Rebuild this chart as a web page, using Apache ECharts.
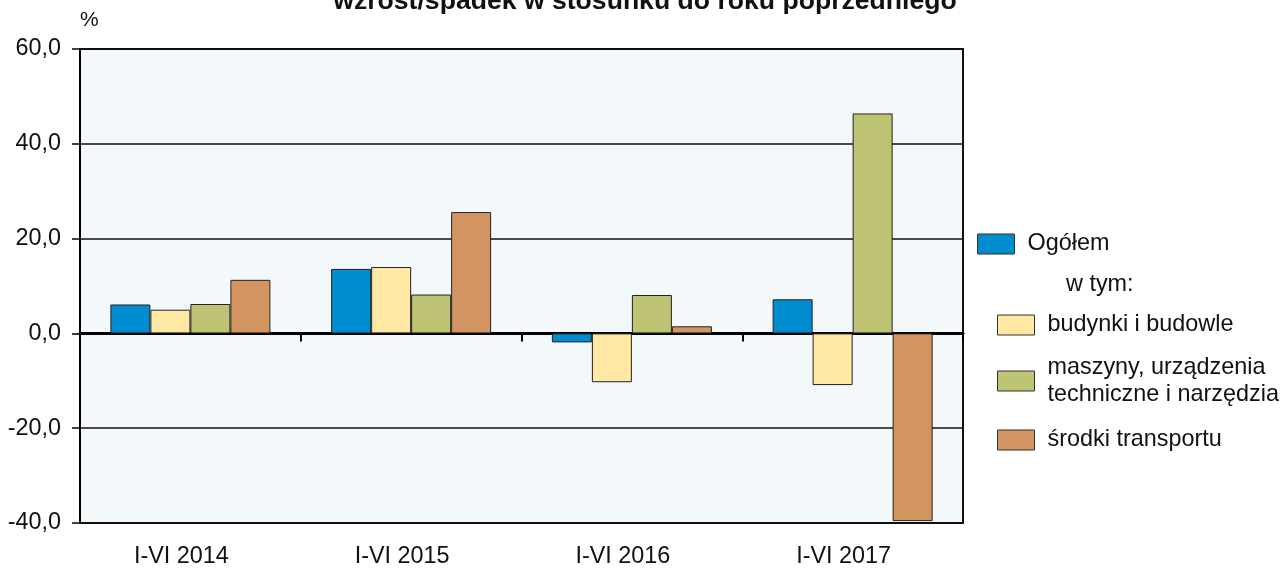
<!DOCTYPE html>
<html>
<head>
<meta charset="utf-8">
<script src="https://cdn.jsdelivr.net/npm/echarts@6/dist/echarts.min.js"></script>
<style>
html,body{margin:0;padding:0;background:#fff;}
#chart{width:1281px;height:568px;}
</style>
</head>
<body>
<div id="chart"></div>
<script>
const categories = ['I-VI 2014', 'I-VI 2015', 'I-VI 2016', 'I-VI 2017'];
const seriesNames = ['Ogółem', 'budynki i budowle', 'maszyny, urządzenia\ntechniczne i narzędzia', 'środki transportu'];
const ogolem = [6.1, 13.6, -1.9, 7.2];
const budynki = [5.0, 14.0, -10.3, -10.9];
const maszyny = [6.2, 8.2, 8.1, 46.4];
const srodki = [11.3, 25.6, 1.5, -39.6];
const titleText = 'wzrost/spadek w stosunku do roku poprzedniego';
const unitText = '%';
const subLegendText = 'w tym:';

const colors = ['#008ccf', '#ffe8a3', '#bec474', '#d29562'];
const FONT = 'Liberation Sans, Arial, Helvetica, sans-serif';
const FS = 23.4;

const chart = echarts.init(document.getElementById('chart'), null, {renderer: 'canvas'});

const allData = [ogolem, budynki, maszyny, srodki];
const series = allData.map((d, i) => ({
  name: seriesNames[i],
  type: 'bar',
  xAxisIndex: 0,
  yAxisIndex: 0,
  data: d,
  barWidth: 40,
  barGap: '0%',
  itemStyle: {color: colors[i], borderColor: '#222', borderWidth: 1},
  emphasis: {disabled: true},
  animation: false
}));

function legendAt(name, left, top) {
  return {
    data: [name],
    left: left, top: top,
    padding: 0,
    orient: 'vertical',
    itemWidth: 37, itemHeight: 20,
    selectedMode: false,
    icon: 'rect',
    itemStyle: {borderColor: '#333', borderWidth: 1},
    textStyle: {fontFamily: FONT, fontSize: FS, color: '#111', lineHeight: 27, padding: [0, 0, 0, 8]}
  };
}

const option = {
  backgroundColor: '#ffffff',
  animation: false,
  textStyle: {fontFamily: FONT},
  grid: {
    left: 80, right: 318, top: 49, bottom: 42,
    show: true, backgroundColor: '#f3f8fb', borderColor: '#111', borderWidth: 2,
    containLabel: false
  },
  legend: [
    legendAt(seriesNames[0], 977, 230.5),
    legendAt(seriesNames[1], 997, 311.5),
    legendAt(seriesNames[2], 997, 354),
    legendAt(seriesNames[3], 997, 426.5)
  ],
  graphic: [
    {type: 'text', x: 645, y: -12, style: {text: titleText, font: 'bold 26.6px ' + FONT, fill: '#111', textAlign: 'center', textVerticalAlign: 'top'}},
    {type: 'text', x: 80, y: 10, style: {text: unitText, font: '21px ' + FONT, fill: '#111'}},
    {type: 'text', x: 1066, y: 273, style: {text: subLegendText, font: FS + 'px ' + FONT, fill: '#111'}}
  ],
  xAxis: [
    {
      type: 'category', data: categories, position: 'bottom',
      axisLine: {onZero: true, lineStyle: {color: '#000', width: 3}},
      axisTick: {show: true, inside: false, length: 8, lineStyle: {color: '#000', width: 2}},
      axisLabel: {show: false},
      splitLine: {show: false}
    },
    {
      type: 'category', data: categories, position: 'bottom',
      axisLine: {show: false, onZero: false},
      axisTick: {show: false},
      axisLabel: {show: true, margin: 22, fontSize: FS, color: '#111', fontFamily: FONT, padding: [0, 18, 0, 0]},
      splitLine: {show: false}
    }
  ],
  yAxis: {
    type: 'value', min: -40, max: 60, interval: 20,
    axisLine: {show: true, lineStyle: {color: '#000', width: 2}},
    axisTick: {show: true, length: 8, lineStyle: {color: '#000', width: 1.5}},
    axisLabel: {margin: 19, fontSize: FS, color: '#111', fontFamily: FONT,
      formatter: v => v.toFixed(1).replace('.', ',')},
    splitLine: {show: true, lineStyle: {color: '#111', width: 1.5}}
  },
  series: series
};

chart.setOption(option);
</script>
</body>
</html>
